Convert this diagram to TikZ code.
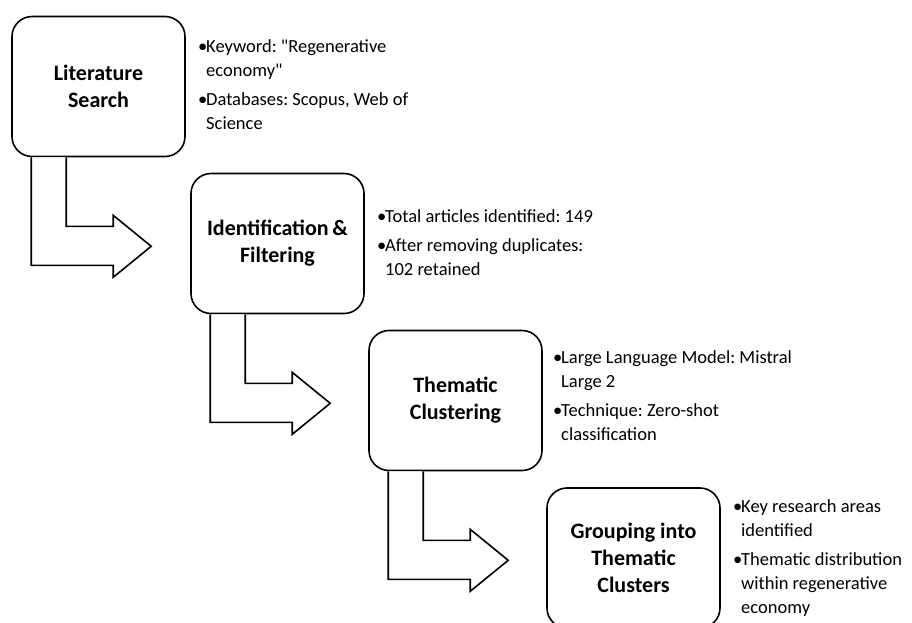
\documentclass[tikz,border=0pt]{standalone}
\usepackage{fontspec}
\setmainfont{Carlito}[Ligatures=TeXOff]
\usepackage{tikz}
\tikzstyle{Step}=[draw,rounded corners=20pt,line width=1.6pt,
minimum width=173pt,minimum height=140pt,align=center,inner sep=0pt,
font=\bfseries\fontsize{22}{27}\selectfont]
\tikzstyle{Info}=[anchor=west,align=left,inner sep=0pt,
font=\fontsize{18.5}{24}\selectfont]
\tikzstyle{Arrow}=[draw,line width=1.6pt,line join=miter,fill=white]
\newcommand{\Bul}{\makebox[8pt][l]{\textbullet}}
\newcommand{\Ind}{\hspace*{8pt}}
% bent block arrow below a step box
\newcommand{\Bent}[1]{\draw[Arrow]([shift={(55,0)}]#1.south west)
    --++(0,69)--++(47,0)--++(0,-11)--++(38,31)--++(-38,31)
    --++(0,-12)--++(-82,0)--++(0,-108);}
\frenchspacing

\begin{document}
\begin{tikzpicture}[x=1pt,y=-1pt]
        \clip(0,0)rectangle(912,622);
        \node[Step](search)at(98.5,86.5){Literature\\Search};
        \node[Step](filter)at(277.5,243.5){Identification\,\&\\Filtering};
        \node[Step](cluster)at(455.5,400.5){Thematic\\Clustering};
        \node[Step](group)at(633.5,558){Grouping into\\Thematic\\Clusters};
        \Bent{search}
        \Bent{filter}
        \Bent{cluster}
        \node[Info](searchT)at(198,85){\Bul Keyword: "Regenerative\\
            \Ind economy"\\[5pt]\Bul Databases: Scopus, Web of\\
            \Ind Science};
        \node[Info](filterT)at(377,243){\Bul Total articles identified: 149\\[5pt]
            \Bul After removing duplicates:\\\Ind 102 retained};
        \node[Info](clusterT)at(553,396){\Bul Large Language Model: Mistral\\
            \Ind Large 2\\[5pt]\Bul Technique: Zero-shot\\\Ind classification};
        \node[Info](groupT)at(733,558){\Bul Key research areas\\
            \Ind identified\\[5pt]\Bul Thematic distribution\\
            \Ind within regenerative\\\Ind economy};
    \end{tikzpicture}
\end{document}
